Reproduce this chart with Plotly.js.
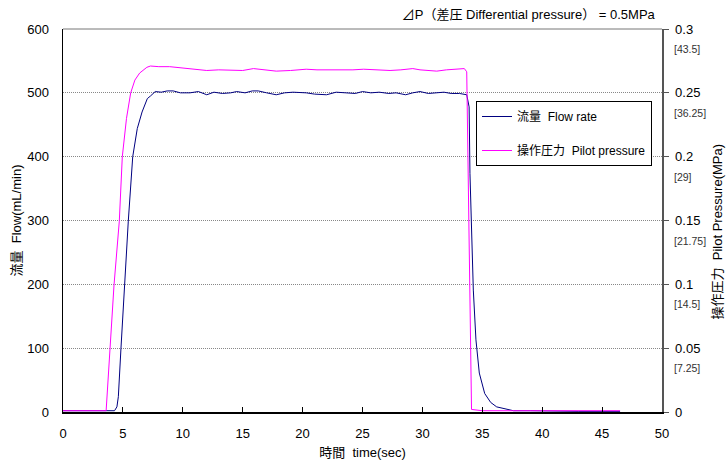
<!DOCTYPE html>
<html>
<head>
<meta charset="utf-8">
<script src="https://cdn.plot.ly/plotly-3.0.1.min.js"></script>
<style>html,body{margin:0;padding:0;background:#fff;}#chart{width:726px;height:463px;}</style>
</head>
<body>
<div id="chart"></div>
<script>
// Flow rate (mL/min) vs time (sec)
const flowTime = [0, 4.3, 4.5, 4.62, 4.84, 5.12, 5.45, 5.82, 6.2, 6.6, 7.04, 7.3, 7.7, 8.2, 8.7, 9.2, 9.8, 10.6, 11.3, 12.0, 12.6, 13.3, 14.0, 14.5, 15.2, 15.8, 16.3, 17.0, 17.8, 18.5, 19.2, 20.3, 21.0, 22.0, 22.8, 23.6, 24.4, 25.0, 25.7, 26.4, 27.2, 27.8, 28.6, 29.2, 29.8, 30.5, 31.2, 31.8, 32.4, 33.1, 33.7, 33.9, 33.97, 34.1, 34.25, 34.47, 34.75, 35.2, 35.7, 36.2, 37.0, 37.6, 39, 41, 43, 45, 46.5];
const flowRate = [2, 2, 8, 24, 100, 199, 299, 400, 444, 470, 491, 495, 502, 501, 503, 503, 500, 500, 502, 497, 501, 499, 500, 502, 500, 503, 503, 500, 497, 500, 501, 500, 498, 497, 501, 500, 499, 502, 500, 501, 499, 500, 497, 500, 502, 499, 500, 501, 499, 499, 497, 478, 374, 270, 191, 113, 61, 29, 15, 8, 4, 2, 2, 1, 1, 1, 1];

// Pilot pressure (MPa) vs time (sec)
const pilotTime = [0, 3.6, 4.26, 4.7, 4.95, 5.3, 5.65, 6.0, 6.4, 7.0, 7.3, 8.0, 8.9, 10.0, 11.0, 12.0, 13.0, 14.0, 15.0, 15.9, 16.8, 17.8, 19.0, 20.3, 21.2, 22.3, 23.3, 24.2, 25.1, 26.2, 27.3, 28.2, 29.2, 29.8, 30.6, 31.2, 32.0, 32.6, 33.1, 33.5, 33.7, 34.1, 35, 40, 46.5];
const pilotPressure = [0.001, 0.001, 0.0995, 0.1495, 0.2, 0.23, 0.25, 0.26, 0.2655, 0.27, 0.271, 0.2705, 0.2705, 0.2695, 0.2685, 0.2675, 0.268, 0.268, 0.2675, 0.269, 0.268, 0.267, 0.2675, 0.2685, 0.268, 0.268, 0.2675, 0.268, 0.2685, 0.268, 0.2675, 0.268, 0.269, 0.268, 0.2675, 0.267, 0.268, 0.2685, 0.2685, 0.269, 0.2665, 0.002, 0.001, 0.001, 0.001];

// Right-axis tick values and bracketed secondary labels (psi)
const rightTicks = [0.05, 0.1, 0.15, 0.2, 0.25, 0.3];
const rightBracketLabels = ['[7.25]', '[14.5]', '[21.75]', '[29]', '[36.25]', '[43.5]'];

const FONT = 'Liberation Sans, Arial, Noto Sans CJK JP, sans-serif';

const traces = [
  {x: flowTime, y: flowRate, type: 'scatter', mode: 'lines', name: '流量  Flow rate',
   line: {color: '#000080', width: 1}, legendgroup: 'a', yaxis: 'y'},
  {x: pilotTime, y: pilotPressure, type: 'scatter', mode: 'lines', name: '操作圧力  Pilot pressure',
   line: {color: '#ff00ff', width: 1}, legendgroup: 'b', yaxis: 'y2'}
];

const annotations = rightTicks.map((v, i) => ({
  xref: 'paper', yref: 'y2', x: 1, y: v, xanchor: 'left', yanchor: 'middle',
  xshift: 10, yshift: -20, text: rightBracketLabels[i], showarrow: false,
  font: {family: FONT, size: 10.5, color: '#333'}
}));
// Right axis title, pushed to the right edge
annotations.push({
  xref: 'paper', yref: 'paper', x: 1, y: 0.47, xanchor: 'right', yanchor: 'middle',
  xshift: 64, textangle: -90, text: '操作圧力  Pilot Pressure(MPa)', showarrow: false,
  borderpad: 0, font: {family: FONT, size: 13, color: '#000'}
});

const layout = {
  width: 726, height: 463,
  margin: {l: 63, r: 64, t: 29, b: 51, pad: 0},
  paper_bgcolor: '#fff', plot_bgcolor: '#fff',
  font: {family: FONT, size: 13, color: '#000'},
  title: {text: '⊿P（差圧 Differential pressure） = 0.5MPa', xref: 'paper', x: 0.988, xanchor: 'right',
          yref: 'container', y: 0.968, yanchor: 'middle', font: {family: FONT, size: 13, color: '#000'}},
  showlegend: true,
  legend: {x: 0.6895, y: 0.812, xanchor: 'left', yanchor: 'top', bgcolor: '#fff',
           bordercolor: '#000', borderwidth: 1, font: {family: FONT, size: 12, color: '#000'},
           traceorder: 'grouped', tracegroupgap: 15, itemwidth: 30},
  xaxis: {range: [0, 50], dtick: 5, tick0: 0, showgrid: false, zeroline: false,
          showline: true, linecolor: '#000', linewidth: 1.5, ticks: 'inside', ticklen: 5, tickcolor: '#000',
          ticklabelstandoff: 9,
          title: {text: '時間  time(sec)', font: {family: FONT, size: 13}, standoff: 8}},
  yaxis: {range: [0, 600], dtick: 100, showgrid: true, gridcolor: '#888', griddash: '1px,1px', gridwidth: 1,
          zeroline: false, showline: true, linecolor: '#000', linewidth: 1.5, ticks: '', ticklabelstandoff: 10,
          title: {text: '流量  Flow(mL/min)', font: {family: FONT, size: 13}, standoff: 2}},
  yaxis2: {range: [0, 0.3], dtick: 0.05, overlaying: 'y', side: 'right', showgrid: false, zeroline: false,
           showline: true, linecolor: '#555', linewidth: 1.5, ticks: 'outside', ticklen: 5, tickcolor: '#555',
           ticklabelstandoff: 4},
  shapes: [{type: 'line', xref: 'paper', yref: 'paper', x0: 0, x1: 1, y0: 1, y1: 1,
            line: {color: '#777', width: 1}}],
  annotations: annotations
};

Plotly.newPlot('chart', traces, layout, {displayModeBar: false, staticPlot: true});
</script>
</body>
</html>
